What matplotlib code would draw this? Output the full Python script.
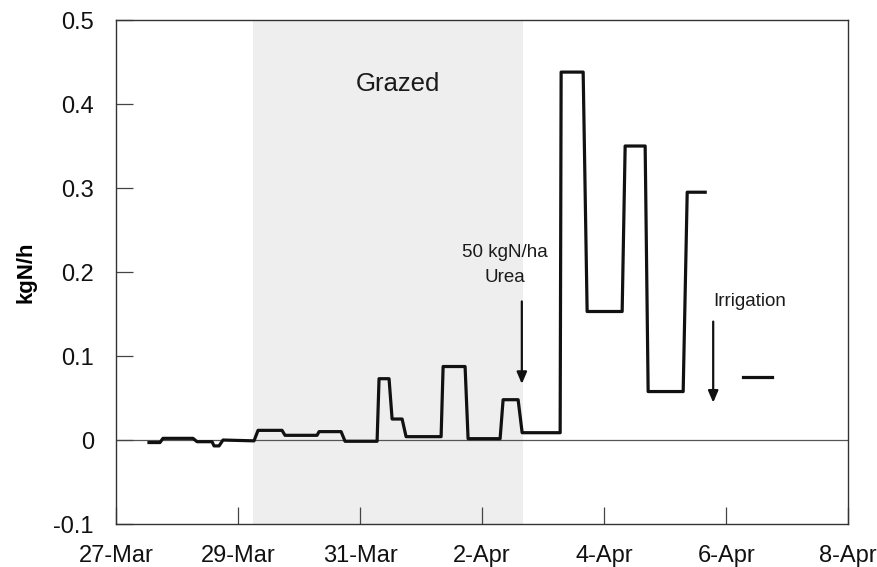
import matplotlib
matplotlib.use("Agg")
import matplotlib.pyplot as plt

plt.rcParams['font.family'] = ['Liberation Sans', 'DejaVu Sans']

# days since 27-Mar
t_days = [0.541, 0.721, 0.770, 1.262, 1.328, 1.574, 1.607, 1.689, 1.754, 2.262,
          2.328, 2.721, 2.770, 3.295, 3.328, 3.689, 3.754, 4.279, 4.311, 4.475,
          4.525, 4.689, 4.754, 5.328, 5.361, 5.721, 5.770, 6.295, 6.344, 6.590,
          6.656, 7.279, 7.295, 7.656, 7.721, 8.295, 8.344, 8.672, 8.721, 9.295,
          9.361, 9.656]
flux = [-0.003, -0.003, 0.002, 0.002, -0.002, -0.002, -0.007, -0.007, 0.0, -0.001,
        0.0115, 0.0115, 0.0056, 0.0056, 0.010, 0.010, -0.0015, -0.0015, 0.073, 0.073,
        0.025, 0.025, 0.004, 0.004, 0.0875, 0.0875, 0.0016, 0.0016, 0.048, 0.048,
        0.0087, 0.0087, 0.438, 0.438, 0.153, 0.153, 0.350, 0.350, 0.0577, 0.0577,
        0.295, 0.295]
# last isolated reading
t_last = [10.279, 10.754]
flux_last = [0.0755, 0.0755]

grazed_start, grazed_end = 2.241, 6.667
urea_day = 6.651
irrigation_day = 9.787

tick_days = [0, 2, 4, 6, 8, 10, 12]
tick_labels = ['27-Mar', '29-Mar', '31-Mar', '2-Apr', '4-Apr', '6-Apr', '8-Apr']
y_ticks = [-0.1, 0, 0.1, 0.2, 0.3, 0.4, 0.5]
y_labels = ['-0.1', '0', '0.1', '0.2', '0.3', '0.4', '0.5']

fig = plt.figure(figsize=(8.78, 5.67), dpi=100)
ax = fig.add_axes([0.1321, 0.0758, 0.834, 0.8889])

ax.axvspan(grazed_start, grazed_end, color='#eeeeee', lw=0, zorder=0)
ax.axhline(0, color='#555555', lw=0.9, zorder=1)
ax.plot(t_days, flux, color='#111111', lw=2.3, zorder=3)
ax.plot(t_last, flux_last, color='#111111', lw=2.3, zorder=3)

ax.text(4.62, 0.4236, 'Grazed', ha='center', va='center', fontsize=18.5, color='#1a1a1a')
ax.text(6.372, 0.2235, '50 kgN/ha', ha='center', va='center', fontsize=13.5, color='#1a1a1a')
ax.text(6.377, 0.193, 'Urea', ha='center', va='center', fontsize=13.5, color='#1a1a1a')
ax.text(9.782, 0.165, 'Irrigation', ha='left', va='center', fontsize=13.5, color='#1a1a1a')

arrow = dict(arrowstyle='-|>,head_width=0.3,head_length=0.7', lw=1.6, color='#111111',
             shrinkA=0, shrinkB=0)
ax.annotate('', xy=(urea_day, 0.0668), xytext=(urea_day, 0.165), arrowprops=arrow)
ax.annotate('', xy=(irrigation_day, 0.0445), xytext=(irrigation_day, 0.141), arrowprops=arrow)

ax.set_xlim(0, 12)
ax.set_ylim(-0.1, 0.5)
ax.set_xticks(tick_days)
ax.set_xticklabels(tick_labels)
ax.set_yticks(y_ticks)
ax.set_yticklabels(y_labels)
ax.tick_params(axis='both', direction='in', length=12, width=0.9, color='#444444',
               labelsize=17, labelcolor='#111111')
ax.tick_params(axis='x', pad=15)
ax.tick_params(axis='y', pad=16)
ax.set_ylabel('kgN/h', fontsize=16, fontweight='bold', labelpad=12)
for s in ax.spines.values():
    s.set_color('#333333')
    s.set_linewidth(1.0)

fig.savefig('out.png', dpi=100)
